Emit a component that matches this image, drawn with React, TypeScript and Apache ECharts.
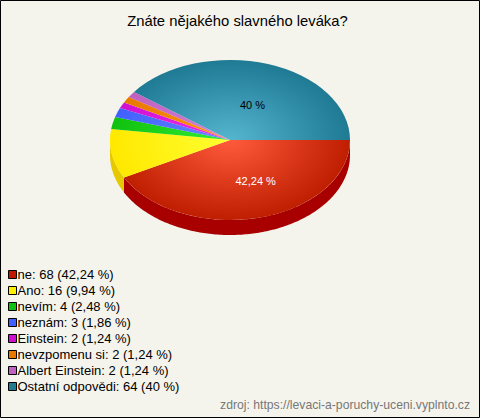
import React, { useEffect, useRef } from "react";
import * as echarts from "echarts";

const TITLE = "Znáte nějakého slavného leváka?";
const SOURCE = "zdroj: https://levaci-a-poruchy-uceni.vyplnto.cz";
const names = ["ne", "Ano", "nevím", "neznám", "Einstein", "nevzpomenu si", "Albert Einstein", "Ostatní odpovědi"];
const values = [68, 16, 4, 3, 2, 2, 2, 64];
const percents = ["42,24 %", "9,94 %", "2,48 %", "1,86 %", "1,24 %", "1,24 %", "1,24 %", "40 %"];
const legendColors = ["#c01800", "#ffee00", "#10c010", "#4060ff", "#d010d0", "#e87800", "#c060c0", "#207a90"];
const innerColors = ["#ff5a3c", "#ffff30", "#30f030", "#6a8aff", "#f030f0", "#ff9a10", "#d880d8", "#55b5cf"];
const outerColors = ["#bf1e00", "#ffe800", "#10c010", "#4060ff", "#d010d0", "#e87800", "#c060c0", "#1f7a94"];
const wallColors = ["#a80000", "#e6c800", "#0a9a0a", "#3048cc", "#a808a8", "#b86000", "#9a4c9a", "#185f73"];
const labelled = [true, false, false, false, false, false, false, true];
const labelColors = ["#ffffff", "#000", "#000", "#000", "#000", "#000", "#000", "#000000"];

const total = values.reduce((a, b) => a + b, 0);
const CX = 230, CY = 140, RX = 120, RY = 80, DEPTH = 15;

function startFraction(i: number) {
  return values.slice(0, i).reduce((a, b) => a + b, 0) / total;
}

function renderSlice(i: number) {
  return (params: any, api: any) => {
    const v = api.value(0);
    const a0 = startFraction(i) * Math.PI * 2;
    const a1 = a0 + (v / total) * Math.PI * 2;
    const children: any[] = [];
    const w1 = Math.min(a1, Math.PI);
    if (a0 < Math.PI && w1 > a0) {
      const top: number[][] = [];
      const bottom: number[][] = [];
      const n = Math.max(4, Math.ceil((w1 - a0) * 60));
      for (let k = 0; k <= n; k++) {
        const a = a0 + ((w1 - a0) * k) / n;
        const x = CX + RX * Math.cos(a);
        const y = CY + RY * Math.sin(a);
        top.push([x, y]);
        bottom.unshift([x, y + DEPTH]);
      }
      children.push({
        type: "polygon",
        shape: { points: top.concat(bottom) },
        style: { fill: wallColors[i] },
      });
    }
    children.push({
      type: "sector",
      x: CX,
      y: CY,
      scaleY: RY / RX,
      shape: { cx: 0, cy: 0, r: RX, r0: 0, startAngle: a0, endAngle: a1, clockwise: true },
      style: {
        fill: new echarts.graphic.RadialGradient(0, 0, RX, [
          { offset: 0, color: innerColors[i] },
          { offset: 1, color: outerColors[i] },
        ], true),
      },
    });
    if (labelled[i]) {
      const mid = (a0 + a1) / 2;
      children.push({
        type: "text",
        z2: 10,
        x: CX + 0.5 * RX * Math.cos(mid) - 9,
        y: CY + 0.5 * RY * Math.sin(mid) + 2.5,
        style: {
          text: percents[i],
          fill: labelColors[i],
          font: '11px "Liberation Sans", Arial, sans-serif',
          textAlign: "left",
          textVerticalAlign: "middle",
        },
      });
    }
    return { type: "group", children };
  };
}

export default function App() {
  const ref = useRef<HTMLDivElement>(null);
  useEffect(() => {
    document.body.style.margin = "0";
    const chart = echarts.init(ref.current!, undefined, { renderer: "svg" });
    const legendNames = names.map((n, i) => `${n}: ${values[i]} (${percents[i]})`);
    chart.setOption({
      animation: false,
      backgroundColor: "#f5f4ec",
      legend: {
        orient: "vertical",
        left: 3,
        top: 262,
        icon: "rect",
        itemWidth: 8,
        itemHeight: 8,
        itemGap: 1,
        selectedMode: false,
        data: legendNames,
        itemStyle: { borderColor: "#000", borderWidth: 1 },
        textStyle: { fontFamily: '"Liberation Sans", Arial, sans-serif', fontSize: 13, color: "#000", padding: [0, 0, 0, -4], lineHeight: 15 },
      },
      graphic: [
        {
          type: "rect",
          silent: true,
          z: 100,
          shape: { x: 0.5, y: 0.5, width: 479, height: 417 },
          style: { fill: "none", stroke: "#000", lineWidth: 1 },
        },
        {
          type: "text",
          x: 237.5,
          y: 21,
          style: {
            text: TITLE,
            fill: "#000",
            font: '14.8px "Liberation Sans", Arial, sans-serif',
            textAlign: "center",
            textVerticalAlign: "middle",
          },
        },
        {
          type: "text",
          x: 470,
          y: 405,
          style: {
            text: SOURCE,
            fill: "#777",
            font: '12.2px "Liberation Sans", Arial, sans-serif',
            textAlign: "right",
            textVerticalAlign: "middle",
          },
        },
      ],
      series: values.map((v, i) => ({
        type: "custom",
        name: legendNames[i],
        coordinateSystem: "none",
        silent: true,
        itemStyle: { color: legendColors[i] },
        data: [[v]],
        renderItem: renderSlice(i),
      })),
    });
    return () => chart.dispose();
  }, []);
  return <div ref={ref} style={{ width: 480, height: 418 }} />;
}
